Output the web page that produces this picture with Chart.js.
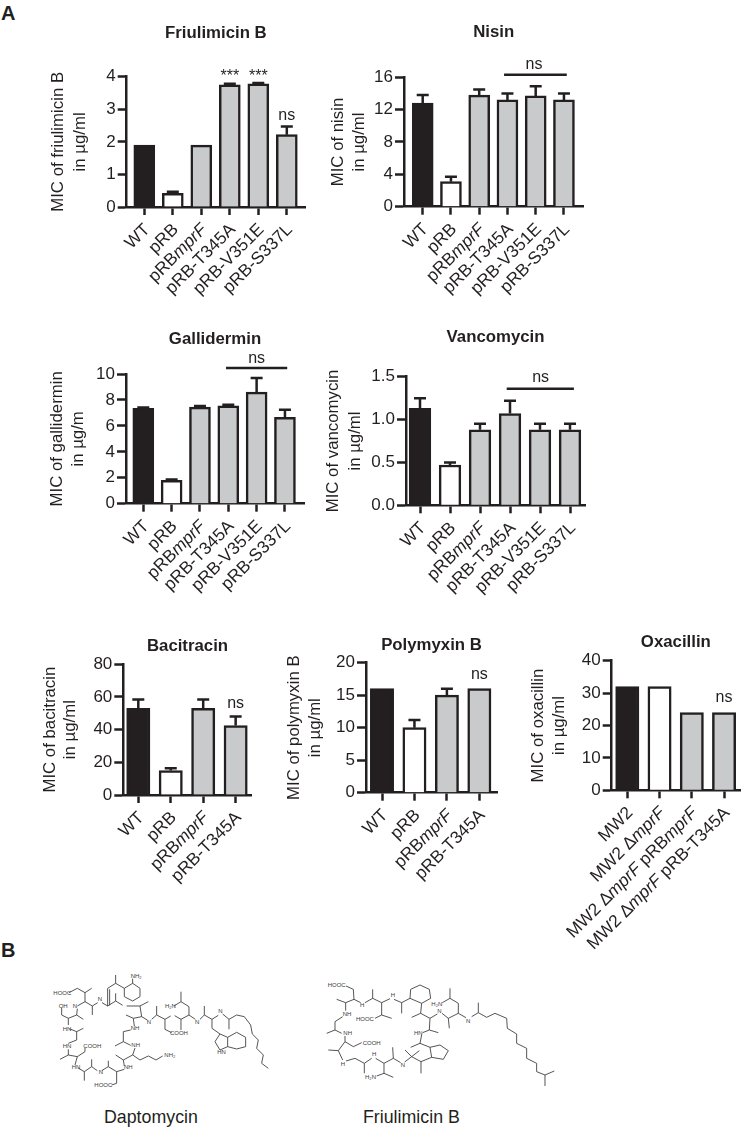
<!DOCTYPE html>
<html>
<head>
<meta charset="utf-8">
<title>MIC panels</title>
<script src="https://cdn.jsdelivr.net/npm/chart.js@4"></script>
<style>
  html, body { margin: 0; padding: 0; background: #fff; }
  #page { position: relative; width: 750px; height: 1129px; overflow: hidden; font-family: "Liberation Sans", Arial, sans-serif; color: #231f20; }
  #page canvas { position: absolute; }
  .letter { position: absolute; left: 1px; font-size: 20px; font-weight: bold; line-height: 20px; }
  .caption { position: absolute; font-size: 17.8px; line-height: 20px; }
  #molecules { position: absolute; left: 0; top: 0; }
  #molecules polyline { fill: none; stroke: #3a3a3a; stroke-width: 2.6; }
  #molecules text { font-family: "Liberation Sans", Arial, sans-serif; font-size: 18px; fill: #3a3a3a; }
</style>
</head>
<body>
<div id="page">
  <div class="letter" style="top:3px">A</div>
  <div class="letter" style="top:940px">B</div>

  <svg id="molecules" width="750" height="1129">
    <g transform="translate(0,930) scale(0.3333)">
      <polyline points="207,188 232,175 255,188 255,215 232,228"/>
      <polyline points="255,188 275,175"/>
      <polyline points="255,215 277,228 277,255"/>
      <polyline points="277,228 293,218"/>
      <polyline points="306,218 323,228 323,175 347,160 347,135"/>
      <polyline points="329,226 329,178"/>
      <polyline points="347,160 373,175 398,160 420,175 420,200 398,213 373,200 373,175"/>
      <polyline points="398,160 398,146"/>
      <polyline points="323,228 347,213 347,190"/>
      <polyline points="347,213 368,226"/>
      <polyline points="380,228 420,228 445,215"/>
      <polyline points="420,228 425,260 400,265 378,255"/>
      <polyline points="400,265 403,288"/>
      <polyline points="392,300 370,305 370,335 345,348"/>
      <polyline points="370,335 392,346"/>
      <polyline points="405,354 398,375 370,390 347,375"/>
      <polyline points="398,375 420,390 445,378 468,390 488,378"/>
      <polyline points="370,390 373,408"/>
      <polyline points="373,418 350,425 325,410 325,392"/>
      <polyline points="350,425 350,460 335,465"/>
      <polyline points="325,410 305,422"/>
      <polyline points="292,422 275,410 275,388"/>
      <polyline points="275,410 253,425 253,452"/>
      <polyline points="253,425 234,414"/>
      <polyline points="225,405 232,380 205,375 180,388"/>
      <polyline points="232,380 255,365 255,354"/>
      <polyline points="205,375 205,358"/>
      <polyline points="205,340 230,330 230,305 250,295"/>
      <polyline points="230,305 208,296"/>
      <polyline points="205,285 205,265 185,255 185,234"/>
      <polyline points="205,265 230,255 250,268"/>
      <polyline points="230,255 232,236"/>
      <polyline points="425,260 442,270"/>
      <polyline points="455,268 470,255 470,228"/>
      <polyline points="470,255 495,268 495,298 515,308"/>
      <polyline points="495,268 512,258"/>
      <polyline points="524,257 543,268 543,300"/>
      <polyline points="543,268 567,255 567,230 543,215 543,185"/>
      <polyline points="543,215 522,228"/>
      <polyline points="567,255 586,268"/>
      <polyline points="600,268 613,255 613,228"/>
      <polyline points="613,255 636,268 636,295 660,312"/>
      <polyline points="636,268 655,256"/>
      <polyline points="668,252 687,268 687,298"/>
      <polyline points="687,268 710,255 733,260 752,285 757,312 775,330 770,355 790,375 785,400 805,415"/>
      <polyline points="660,312 645,335 660,360 683,350 683,322 660,312"/>
      <polyline points="683,322 710,307 737,322 737,350 710,357 683,350"/>
      <text x="160" y="195">HOOC</text><text x="218" y="234">N</text><text x="293" y="214">N</text>
      <text x="392" y="143">NH₂</text><text x="176" y="233">OH</text><text x="188" y="302">HN</text>
      <text x="188" y="354">HN</text><text x="250" y="353">COOH</text><text x="215" y="418">HN</text>
      <text x="283" y="472">HOOC</text><text x="296" y="432">N</text><text x="372" y="418">NH</text>
      <text x="493" y="382">NH₂</text><text x="392" y="300">NH</text><text x="394" y="352">NH</text>
      <text x="440" y="282">N</text><text x="510" y="315">COOH</text><text x="495" y="234">H₂N</text>
      <text x="585" y="282">N</text><text x="655" y="248">N</text><text x="652" y="372">HN</text>
    </g>
    <g transform="translate(310,960) scale(0.3333)">
      <polyline points="108,78 130,88 132,118 107,128 80,118"/>
      <polyline points="107,128 107,152"/>
      <polyline points="132,118 152,128"/>
      <polyline points="165,128 188,115 188,88"/>
      <polyline points="188,115 215,128 215,165 195,175"/>
      <polyline points="215,165 245,175"/>
      <polyline points="215,128 240,116"/>
      <polyline points="252,118 275,128 275,160"/>
      <polyline points="275,128 300,115 302,88 330,75 358,88 362,115 335,130 300,115"/>
      <polyline points="335,130 332,160 305,172"/>
      <polyline points="332,160 360,175 382,162"/>
      <polyline points="360,175 358,210 385,218"/>
      <polyline points="358,210 338,218"/>
      <polyline points="335,225 330,250 302,262"/>
      <polyline points="330,250 360,262 390,255 415,272 400,298 365,292 360,262"/>
      <polyline points="365,292 333,305 333,340"/>
      <polyline points="333,305 305,290 285,270"/>
      <polyline points="305,290 328,272"/>
      <polyline points="305,290 284,306"/>
      <polyline points="272,308 250,295 248,262"/>
      <polyline points="250,295 222,310 222,340 250,352"/>
      <polyline points="222,340 200,348"/>
      <polyline points="222,310 197,295"/>
      <polyline points="185,295 163,310 163,340"/>
      <polyline points="163,310 135,295 108,303"/>
      <polyline points="98,300 85,272 55,270"/>
      <polyline points="85,272 105,245 130,260 155,248"/>
      <polyline points="105,245 105,228"/>
      <polyline points="95,220 75,210 50,220"/>
      <polyline points="75,210 75,185 98,170"/>
      <polyline points="396,160 415,175 418,205"/>
      <polyline points="415,175 445,160 445,130 420,115 420,85"/>
      <polyline points="420,115 397,128"/>
      <polyline points="445,160 468,173"/>
      <polyline points="485,170 505,158 505,128"/>
      <polyline points="505,158 530,172 555,160 590,175 592,205 620,222 620,250 650,265 650,295 680,310 680,335 705,345 733,333"/>
      <polyline points="705,345 705,378"/>
      <text x="53" y="82">HOOC</text><text x="98" y="168">NH</text><text x="150" y="142">H</text>
      <text x="138" y="182">HOOC</text><text x="242" y="112">H</text><text x="312" y="226">HN</text>
      <text x="364" y="137">H₂N</text><text x="382" y="160">N</text><text x="468" y="188">N</text>
      <text x="158" y="254">COOH</text><text x="100" y="226">NH</text><text x="92" y="318">H</text>
      <text x="165" y="358">H₂N</text><text x="186" y="288">H</text><text x="272" y="322">N</text>
    </g>
  </svg>

  <div class="caption" style="left:104px;top:1107px">Daptomycin</div>
  <div class="caption" style="left:363px;top:1107px">Friulimicin B</div>
</div>

<script>
"use strict";

// Categories
const strains6 = ["WT", "pRB", "pRBmprF", "pRB-T345A", "pRB-V351E", "pRB-S337L"];
const strains4 = ["WT", "pRB", "pRBmprF", "pRB-T345A"];
const strainsMW2 = ["MW2", "MW2 ΔmprF", "MW2 ΔmprF pRBmprF", "MW2 ΔmprF pRB-T345A"];

// Bar heights and top of the error bars
const friulimicinValues = [1.9, 0.42, 1.9, 3.75, 3.78, 2.22];
const friulimicinUpper = [null, 0.47, null, 3.78, 3.81, 2.47];
const nisinValues = [12.8, 3.1, 13.8, 13.2, 13.7, 13.2];
const nisinUpper = [13.8, 3.7, 14.5, 14, 14.9, 14];
const galliderminValues = [7.35, 1.8, 7.45, 7.55, 8.6, 6.65];
const galliderminUpper = [7.42, 1.87, 7.53, 7.63, 9.7, 7.25];
const vancomycinValues = [1.13, 0.47, 0.88, 1.07, 0.88, 0.88];
const vancomycinUpper = [1.25, 0.5, 0.95, 1.22, 0.95, 0.95];
const bacitracinValues = [53, 15, 53, 42.5];
const bacitracinUpper = [58.5, 16.3, 58.5, 48];
const polymyxinValues = [16, 10, 15, 16];
const polymyxinUpper = [null, 11.2, 16, null];
const oxacillinValues = [32, 32, 24, 24];

// Y axis ticks
const friulimicinTicks = ["0", "1", "2", "3", "4"];
const nisinTicks = ["0", "4", "8", "12", "16"];
const galliderminTicks = ["0", "2", "4", "6", "8", "10"];
const vancomycinTicks = ["0.0", "0.5", "1.0", "1.5"];
const bacitracinTicks = ["0", "20", "40", "60", "80"];
const polymyxinTicks = ["0", "5", "10", "15", "20"];
const oxacillinTicks = ["0", "10", "20", "30", "40"];

// Bar fills by strain
const fills6 = ["#231f20", "#ffffff", "#c8cacc", "#c8cacc", "#c8cacc", "#c8cacc"];
const fills4 = ["#231f20", "#ffffff", "#c8cacc", "#c8cacc"];

const INK = "#231f20";
const LINE = 2.5;

// Where each panel sits on the page
const panels = [
    {
        title: "Friulimicin B", yTitle: ["MIC of friulimicin B", "in µg/ml"],
        categories: strains6, values: friulimicinValues, upper: friulimicinUpper, ticks: friulimicinTicks, fills: fills6,
        box: [40, 20, 280, 285], axisX: 126.7, xEnd: 305, yTop: 76.7, y0: 207, tick0: 144.3, step: 28.5, barWidth: 21,
        titleY: 33, labelX: 58, lineGap: 22.5,
        notes: [{ text: "***", x: 3, y: 4.0 }, { text: "***", x: 4, y: 4.0 }, { text: "ns", x: 5, y: 2.82 }]
    },
    {
        title: "Nisin", yTitle: ["MIC of nisin", "in µg/ml"],
        categories: strains6, values: nisinValues, upper: nisinUpper, ticks: nisinTicks, fills: fills6,
        box: [325, 20, 280, 285], axisX: 404, xEnd: 583.3, yTop: 77.3, y0: 206.7, tick0: 422.7, step: 28.25, barWidth: 21,
        titleY: 32, labelX: 338.3, lineGap: 21,
        notes: [{ text: "ns", x: 3.94, y: 17.6 }], bracket: { from: 2.88, to: 5.1, y: 16.3 }
    },
    {
        title: "Gallidermin", yTitle: ["MIC of gallidermin", "in µg/m"],
        categories: strains6, values: galliderminValues, upper: galliderminUpper, ticks: galliderminTicks, fills: fills6,
        box: [40, 320, 280, 285], axisX: 126, xEnd: 304, yTop: 374, y0: 503.7, tick0: 143.3, step: 28.33, barWidth: 21,
        titleY: 339, labelX: 57.3, lineGap: 21,
        notes: [{ text: "ns", x: 4, y: 11.18 }], bracket: { from: 2.92, to: 5.08, y: 10.46 }
    },
    {
        title: "Vancomycin", yTitle: ["MIC of vancomycin", "in µg/ml"],
        categories: strains6, values: vancomycinValues, upper: vancomycinUpper, ticks: vancomycinTicks, fills: fills6,
        box: [322, 320, 280, 285], axisX: 406, xEnd: 585, yTop: 376.7, y0: 505.3, tick0: 420, step: 30, barWidth: 21.7,
        titleY: 337.3, labelX: 333.3, lineGap: 21.7,
        notes: [{ text: "ns", x: 4.02, y: 1.49 }], bracket: { from: 2.89, to: 5.13, y: 1.36 }
    },
    {
        title: "Bacitracin", yTitle: ["MIC of bacitracin", "in µg/ml"],
        categories: strains4, values: bacitracinValues, upper: bacitracinUpper, ticks: bacitracinTicks, fills: fills4,
        box: [35, 625, 235, 270], axisX: 123.3, xEnd: 251.7, yTop: 664.3, y0: 795, tick0: 138.3, step: 32.45, barWidth: 23.3,
        titleY: 646, labelX: 50, lineGap: 20.7,
        notes: [{ text: "ns", x: 3, y: 56 }]
    },
    {
        title: "Polymyxin B", yTitle: ["MIC of polymyxin B", "in µg/ml"],
        categories: strains4, values: polymyxinValues, upper: polymyxinUpper, ticks: polymyxinTicks, fills: fills4,
        box: [280, 625, 225, 270], axisX: 366, xEnd: 497, yTop: 662.7, y0: 792.7, tick0: 382, step: 32.45, barWidth: 23.3,
        titleY: 645, labelX: 294, lineGap: 21,
        notes: [{ text: "ns", x: 3, y: 18.1 }]
    },
    {
        title: "Oxacillin", yTitle: ["MIC of oxacillin", "in µg/ml"],
        categories: strainsMW2, values: oxacillinValues, upper: null, ticks: oxacillinTicks, fills: fills4,
        box: [525, 625, 225, 325], axisX: 611.7, xEnd: 740, yTop: 660.7, y0: 790.3, tick0: 627.3, step: 32.25, barWidth: 23.3,
        titleY: 642.3, labelX: 538.3, lineGap: 21,
        notes: [{ text: "ns", x: 3, y: 28.5 }]
    }
];

// Upper error bars, significance marks and the slanted labels with italic gene names
const extrasPlugin = {
    id: "extras",
    afterDatasetsDraw(chart, args, opts) {
        const { ctx, scales: { x, y } } = chart;
        const p = opts.panel;
        ctx.save();
        ctx.strokeStyle = INK;
        ctx.fillStyle = INK;
        ctx.lineWidth = LINE;

        (p.upper || []).forEach((top, i) => {
            if (top === null) return;
            const px = x.getPixelForValue(i);
            ctx.beginPath();
            ctx.moveTo(px, y.getPixelForValue(p.values[i]));
            ctx.lineTo(px, y.getPixelForValue(top));
            ctx.moveTo(px - 6, y.getPixelForValue(top));
            ctx.lineTo(px + 6, y.getPixelForValue(top));
            ctx.stroke();
        });

        if (p.bracket) {
            ctx.beginPath();
            ctx.moveTo(x.getPixelForValue(p.bracket.from), y.getPixelForValue(p.bracket.y));
            ctx.lineTo(x.getPixelForValue(p.bracket.to), y.getPixelForValue(p.bracket.y));
            ctx.stroke();
        }

        ctx.textAlign = "center";
        ctx.textBaseline = "middle";
        ctx.font = '16px "Liberation Sans"';
        p.notes.forEach(n => ctx.fillText(n.text, x.getPixelForValue(n.x), y.getPixelForValue(n.y)));

        p.categories.forEach((label, i) => {
            ctx.save();
            ctx.translate(x.getPixelForValue(i) + 3, y.bottom + 20);
            ctx.rotate(-Math.PI / 4);
            ctx.textAlign = "left";
            const parts = label.split(/(mprF)/).filter(s => s);
            const fonts = parts.map(s => (s === "mprF" ? "italic " : "") + '17.4px "Liberation Sans"');
            const widths = parts.map((s, k) => { ctx.font = fonts[k]; return ctx.measureText(s).width; });
            let cx = -widths.reduce((a, b) => a + b, 0);
            parts.forEach((s, k) => {
                ctx.font = fonts[k];
                ctx.fillText(s, cx, 0);
                cx += widths[k];
            });
            ctx.restore();
        });
        ctx.restore();
    }
};

panels.forEach(p => {
    const [bx, by, bw, bh] = p.box;
    const canvas = document.createElement("canvas");
    canvas.width = bw;
    canvas.height = bh;
    canvas.style.left = bx + "px";
    canvas.style.top = by + "px";
    document.getElementById("page").appendChild(canvas);

    const titleLine = 20;
    const padLeft = p.labelX - bx - p.lineGap / 2;
    const tickValues = p.ticks.map(Number);

    new Chart(canvas.getContext("2d"), {
        type: "bar",
        data: {
            labels: p.categories,
            datasets: [{
                data: p.values.map((v, i) => ({ x: i, y: v })),
                backgroundColor: p.fills,
                borderColor: INK,
                borderWidth: LINE,
                borderSkipped: "bottom",
                barThickness: p.barWidth
            }]
        },
        options: {
            responsive: false,
            animation: false,
            devicePixelRatio: 1,
            layout: { padding: { left: padLeft, right: bx + bw - p.xEnd, top: 0, bottom: 0 } },
            plugins: {
                legend: { display: false },
                tooltip: { enabled: false },
                title: {
                    display: true,
                    text: p.title,
                    fullSize: false,
                    color: INK,
                    font: { family: "Liberation Sans", size: 16.8, weight: "bold", lineHeight: titleLine / 16.8 },
                    padding: { top: p.titleY - by - titleLine / 2, bottom: p.yTop - p.titleY - titleLine / 2 }
                },
                extras: { panel: p }
            },
            scales: {
                x: {
                    type: "linear",
                    offset: false,
                    min: (p.axisX - p.tick0) / p.step,
                    max: (p.xEnd - p.tick0) / p.step,
                    afterBuildTicks: s => { s.ticks = p.categories.map((c, i) => ({ value: i })); },
                    afterFit: s => { s.height = by + bh - p.y0; },
                    ticks: { display: false },
                    grid: { offset: false, drawOnChartArea: false, tickLength: 8, tickWidth: LINE, tickColor: INK },
                    border: { color: INK, width: LINE }
                },
                y: {
                    min: tickValues[0],
                    max: tickValues[tickValues.length - 1],
                    afterBuildTicks: s => { s.ticks = tickValues.map(v => ({ value: v })); },
                    afterFit: s => { s.width = p.axisX - bx - padLeft; },
                    ticks: {
                        color: INK,
                        padding: 2,
                        font: { family: "Liberation Sans", size: 17 },
                        callback: (v, i) => p.ticks[i]
                    },
                    title: {
                        display: true,
                        text: p.yTitle,
                        color: INK,
                        padding: 0,
                        font: { family: "Liberation Sans", size: 16.8, lineHeight: p.lineGap / 16.8 }
                    },
                    grid: { drawOnChartArea: false, tickLength: 9, tickWidth: LINE, tickColor: INK },
                    border: { color: INK, width: LINE }
                }
            }
        },
        plugins: [extrasPlugin]
    });
});
</script>
</body>
</html>
